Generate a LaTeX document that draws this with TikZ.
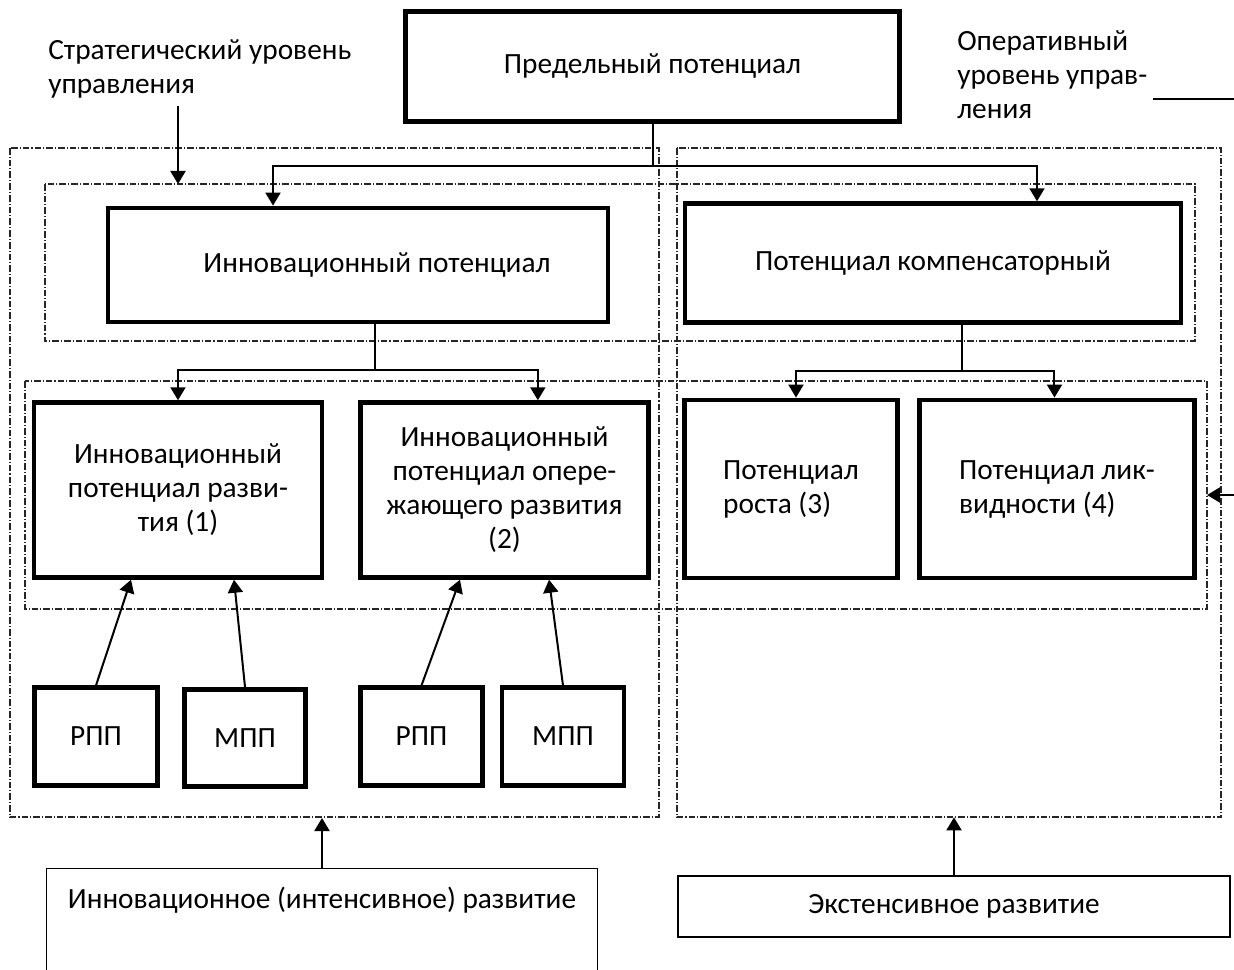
\documentclass[tikz,border=0pt]{standalone}
\usepackage{fontspec}
\setmainfont{Carlito}
\usetikzlibrary{arrows.meta}

\begin{document}
\begin{tikzpicture}[x=0.75pt,y=0.75pt,yscale=-1,xscale=1,
        every node/.style={font=\fontsize{22}{25.5}\selectfont},
        thickbox/.style={draw,line width=3.6pt,align=center,inner sep=0pt},
        thinbox/.style={draw,line width=1pt,inner sep=0pt},
        dashframe/.style={black!85,line width=0.8pt,dash pattern={on 5pt off 1.5pt on 0.8pt off 1.5pt}},
        link/.style={line width=1.5pt},
        arrow/.style={line width=1.5pt,-{Triangle[length=9.75pt,width=11.25pt]}}]
        \useasboundingbox (0,0) rectangle (1234,970);
        
        %Shape: Rectangle
        \draw[dashframe] (10,148) rectangle (659,817);
        %Shape: Rectangle
        \draw[dashframe] (677,148) rectangle (1221,817);
        %Shape: Rectangle
        \draw[dashframe] (45,184) rectangle (1195,341);
        %Shape: Rectangle
        \draw[dashframe] (25,381) rectangle (1207,609);
        
        % Text Node
        \node[thickbox,minimum width=370pt,minimum height=82pt] (pred) at (652.5,66.5) {Предельный потенциал};
        % Text Node
        \node[thickbox,minimum width=375pt,minimum height=85.5pt,label={[xshift=14.25pt]center:Инновационный потенциал}] (innov) at (358,265) {};
        % Text Node
        \node[thickbox,minimum width=372pt,minimum height=89pt] (komp) at (933,263) {Потенциал компенсаторный};
        % Text Node
        \node[thickbox,minimum width=216pt,minimum height=131pt] (razv) at (178,490) {Инновационный\\потенциал разви-\\тия (1)};
        % Text Node
        \node[thickbox,minimum width=216pt,minimum height=131pt] (oper) at (504.5,490) {Инновационный\\потенциал опере-\\жающего развития\\(2)};
        % Text Node
        \node[thickbox,align=left,minimum width=159.4pt,minimum height=133.5pt] (rost) at (791,489) {Потенциал\\роста (3)};
        % Text Node
        \node[thickbox,align=left,minimum width=206pt,minimum height=133.5pt] (likv) at (1057,489) {Потенциал лик-\\видности (4)};
        % Text Node
        \node[thickbox,minimum width=92pt,minimum height=73pt] (rpp1) at (96,736.5) {РПП};
        % Text Node
        \node[thickbox,minimum width=91pt,minimum height=73pt] (mpp1) at (245,738) {МПП};
        % Text Node
        \node[thickbox,minimum width=91.5pt,minimum height=73pt] (rpp2) at (421.5,736.5) {РПП};
        % Text Node
        \node[thickbox,minimum width=91.5pt,minimum height=73pt] (mpp2) at (563,736.5) {МПП};
        % Text Node
        \node[thinbox,anchor=north,minimum width=413pt,text height=30pt,text depth=55pt] (intens) at (322,868) {Инновационное (интенсивное) развитие};
        % Text Node
        \node[thinbox,minimum width=414pt,minimum height=45.75pt] (extens) at (954,906.5) {Экстенсивное развитие};
        % Text Node
        \node[anchor=north west,align=left,inner sep=0pt] (strat) at (48,39) {Стратегический уровень\\управления};
        % Text Node
        \node[anchor=north west,align=left,inner sep=0pt] (operlvl) at (957,30) {Оперативный\\уровень управ-\\ления};
        
        %Straight Lines
        \draw[line width=1.2pt] (1153,99) -- (1234,99);
        
        %Straight Lines
        \draw[link] (pred.south) -- +(0,42) coordinate (t1);
        \draw[arrow] (t1) -| ([xshift=-63.75pt]innov.north);
        \draw[arrow] (t1) -| ([xshift=78pt]komp.north);
        %Straight Lines
        \draw[link] ([xshift=12.75pt]innov.south) -- +(0,46) coordinate (t2);
        \draw[arrow] (t2) -| (razv.north);
        \draw[arrow] (t2) -| ([xshift=25pt]oper.north);
        %Straight Lines
        \draw[link] ([xshift=21.75pt]komp.south) -- +(0,46) coordinate (t3);
        \draw[arrow] (t3) -| ([xshift=3.75pt]rost.north);
        \draw[arrow] (t3) -| ([xshift=-1.9pt]likv.north);
        
        %Straight Lines
        \draw[arrow] (rpp1.north) -- ([xshift=-35.25pt]razv.south);
        \draw[arrow] (mpp1.north) -- ([xshift=42pt]razv.south);
        \draw[arrow] (rpp2.north) -- ([xshift=-33.4pt]oper.south);
        \draw[arrow] (mpp2.north) -- ([xshift=33.4pt]oper.south);
        
        %Straight Lines
        \coordinate (s1) at (178,106);
        \coordinate (s2) at (178,184);
        \draw[arrow] (s1) -- (s2);
        \coordinate (r1) at (1234,495);
        \coordinate (r2) at (1207,495);
        \draw[arrow] (r1) -- (r2);
        \draw[arrow] (intens.north) -- +(0,-50);
        \draw[arrow] (extens.north) -- +(0,-58);
\end{tikzpicture}
\end{document}
